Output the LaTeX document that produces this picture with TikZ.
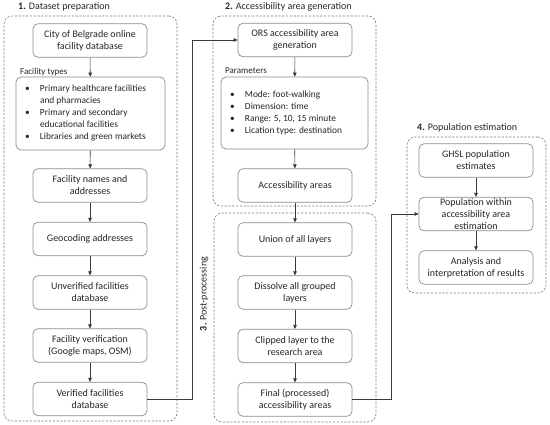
\documentclass[tikz,border=0pt]{standalone}
\usepackage{fontspec}
\setmainfont{Carlito}
\usetikzlibrary{arrows.meta}
\definecolor{boxgray}{HTML}{8C8C8C}
\definecolor{grpgray}{HTML}{7A7A7A}
\definecolor{arrgray}{HTML}{3A3A3A}
\definecolor{txt}{HTML}{262626}
\tikzset{
  box/.style={draw=boxgray, line width=0.7pt, rounded corners=5pt, fill=white, align=center,
    font=\fontsize{10}{12}\selectfont, text=txt, inner sep=1pt,
    minimum width=114pt, minimum height=33.5pt},
  listbox/.style={box, font=\fontsize{9.4}{12}\selectfont, minimum width=149pt, minimum height=73pt},
  grp/.style={draw=grpgray, line width=0.6pt, dash pattern=on 2.2pt off 1.6pt, rounded corners=8pt,
    minimum width=#1},
  ttl/.style={font=\fontsize{10}{12}\selectfont, text=txt, inner sep=0pt},
  lbl/.style={font=\fontsize{9}{10}\selectfont, text=txt, inner sep=0pt, anchor=west},
  arr/.style={draw=arrgray, line width=0.6pt, -{Triangle[length=4pt,width=3.6pt]}}
}
\begin{document}
\begin{tikzpicture}[x=1pt,y=-1pt]
\useasboundingbox (0,0) rectangle (550,425);
% groups
\node[grp=173pt, minimum height=405pt] (g1) at (90.5,218.5) {};
\node[grp=163pt, minimum height=190pt] (g2) at (294.5,111) {};
\node[grp=162pt, minimum height=209pt] (g3) at (295,317.5) {};
\node[grp=139pt, minimum height=156pt] (g4) at (476.5,215) {};
% titles
\node[ttl, anchor=west] (t1) at (18,7) {\textbf{1.} Dataset preparation};
\node[ttl, anchor=west] (t2) at (225,7) {\textbf{2.} Accessibility area generation};
\node[ttl, rotate=90] (t3) at (204,294) {\textbf{3.} Post-processing};
\node[ttl, anchor=west] (t4) at (417,128) {\textbf{4.} Population estimation};
% column 1
\node[box] (city) at (90,40.5) {City of Belgrade online\\facility database};
\node[lbl] (ftl) at (20,72) {Facility types};
\node[listbox] (ft) at (90.5,113.5) {\makebox[145pt][l]{\begin{tabular}{@{\hspace{7pt}}p{15pt}@{}l@{}}
\textbullet & Primary healthcare facilities\\
 & and pharmacies\\
\textbullet & Primary and secondary\\
 & educational facilities\\
\textbullet & Libraries and green markets
\end{tabular}}};
\node[box] (names) at (90,185.5) {Facility names and\\addresses};
\node[box] (geo) at (90,239) {Geocoding addresses};
\node[box] (unv) at (90,292.5) {Unverified facilities\\database};
\node[box] (vf) at (90,345.5) {Facility verification\\(Google maps, OSM)};
\node[box] (ver) at (90,399) {Verified facilities\\database};
% column 2
\node[box] (ors) at (295,40) {ORS accessibility area\\generation};
\node[lbl] (pl) at (225,71) {Parameters};
\node[listbox, minimum width=147pt, minimum height=72pt] (par) at (294.5,113) {\makebox[143pt][l]{\begin{tabular}{@{\hspace{7pt}}p{15pt}@{}l@{}}
\textbullet & Mode: foot-walking\\
\textbullet & Dimension: time\\
\textbullet & Range: 5, 10, 15 minute\\
\textbullet & Lication type: destination
\end{tabular}}};
\node[box] (acc) at (295,185.5) {Accessibility areas};
\node[box] (uni) at (295,239.5) {Union of all layers};
\node[box] (dis) at (295,292.5) {Dissolve all grouped\\layers};
\node[box] (clp) at (295,346) {Clipped layer to the\\research area};
\node[box] (fin) at (295,399.5) {Final (processed)\\accessibility areas};
% column 3
\node[box] (ghsl) at (476,160.5) {GHSL population\\estimates};
\node[box] (pop) at (476,214) {Population within\\accessibility area\\estimation};
\node[box] (ana) at (476,267.5) {Analysis and\\interpretation of results};
% arrows
\draw[arr] (city) -- (ft);
\draw[arr] (ft) -- (names);
\draw[arr] (names) -- (geo);
\draw[arr] (geo) -- (unv);
\draw[arr] (unv) -- (vf);
\draw[arr] (vf) -- (ver);
\draw[arr] (ver.east) -- ++(45,0) |- (ors.west);
\draw[arr] (ors) -- (par);
\draw[arr] (par) -- (acc);
\draw[arr] (acc) -- (uni);
\draw[arr] (uni) -- (dis);
\draw[arr] (dis) -- (clp);
\draw[arr] (clp) -- (fin);
\draw[arr] (fin.east) -- ++(39,0) |- (pop.west);
\draw[arr] (ghsl) -- (pop);
\draw[arr] (pop) -- (ana);
\end{tikzpicture}
\end{document}
